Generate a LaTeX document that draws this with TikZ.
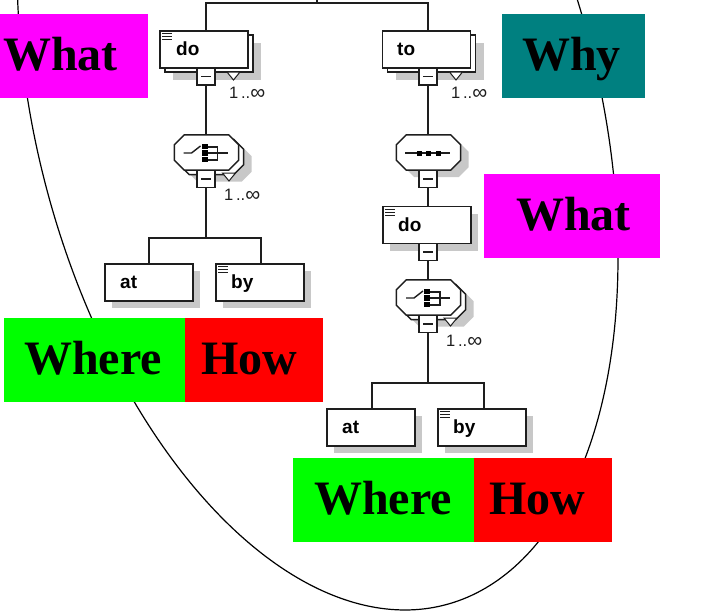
\documentclass[tikz,border=0pt]{standalone}
\usepackage{fontspec}
\setmainfont{Liberation Serif}
\newfontfamily\lsans{Liberation Sans}
\definecolor{ink}{HTML}{1E1E1E}
\definecolor{shade}{HTML}{C8C8C8}
\definecolor{tealbox}{HTML}{008080}
\definecolor{pinkbox}{HTML}{FF00FF}
\definecolor{greenbox}{HTML}{00FF00}
\definecolor{redbox}{HTML}{FF0000}
\tikzset{
  x=1pt,y=-1pt,
  link/.style={draw=ink,line width=1.5pt},
  oval/.style={draw=black,line width=1.2pt},
  xbox/.style={rectangle,draw=ink,line width=1.5pt,fill=white,minimum width=88pt,minimum height=37pt,inner sep=0pt},
  xshadow/.style={rectangle,fill=shade,minimum width=88pt,minimum height=37pt,inner sep=0pt},
  octanchor/.style={rectangle,minimum width=64pt,minimum height=35pt,inner sep=0pt},
  octline/.style={draw=ink,line width=1.5pt,fill=white},
  octshade/.style={fill=shade},
  minusbox/.style={rectangle,draw=ink,line width=1.5pt,fill=white,minimum width=18pt,minimum height=17pt,inner sep=0pt},
  name text/.style={font=\lsans\bfseries\fontsize{19}{19}\selectfont,text=black,inner sep=0pt,anchor=base west},
  mult/.style={font=\lsans\fontsize{16.5}{16.5}\selectfont,text=ink,inner sep=0pt,anchor=base west},
  tag/.style={rectangle,inner sep=0pt,minimum height=84pt,anchor=north west},
  tag text/.style={font=\bfseries\fontsize{48}{48}\selectfont,text=black,inner sep=0pt,anchor=base west},
  tri/.style={draw=ink,line width=1pt,fill=white},
  icon/.style={draw=ink,line width=1.4pt},
  bar/.style={fill=black},
}
% octagon on a named rectangular node: #1 style, #2 name, #3 x, #4 y
\newcommand{\octagon}[4]{%
  \node[octanchor] (#2) at (#3,#4) {};
  \path[#1] ([xshift=10pt]#2.north west) -- ([xshift=-10pt]#2.north east)
    -- ([yshift=-10pt]#2.north east) -- ([yshift=10pt]#2.south east)
    -- ([xshift=-10pt]#2.south east) -- ([xshift=10pt]#2.south west)
    -- ([yshift=10pt]#2.south west) -- ([yshift=-10pt]#2.north west) -- cycle;
}
\newcommand{\singlebox}[3]{%
  \node[xshadow] at (#2+7,#3+7) {};
  \node[xbox] (#1) at (#2,#3) {};
}
\newcommand{\doublebox}[3]{%
  \node[xshadow] at (#2+13,#3+12) {};
  \node[xbox] (#1b) at (#2+5,#3+4) {};
  \node[xbox] (#1) at (#2,#3) {};
}
\newcommand{\docicon}[1]{%
  \foreach \yy in {3.5,6.5,9.5}{\draw[icon,line width=1.2pt] ([shift={(3,\yy)}]#1.north west) -- ([shift={(13,\yy)}]#1.north west);}%
}
\newcommand{\minus}[1]{\draw[icon] ([xshift=-5pt]#1.center) -- ([xshift=5pt]#1.center);}
\newcommand{\trimark}[2]{\draw[tri] (#1,#2) -- (#1+13,#2) -- (#1+6.5,#2+8) -- cycle;}
\newcommand{\choiceicon}[2]{%
  \draw[icon] (#1-22,#2) -- (#1-14,#2) -- (#1-5,#2-7);
  \fill[bar] (#1-4,#2-9) rectangle (#1+2,#2-4);
  \fill[bar] (#1-4,#2-3) rectangle (#1+2,#2+3);
  \fill[bar] (#1-4,#2+4) rectangle (#1+2,#2+9);
  \draw[icon] (#1+2,#2-6) -- (#1+12,#2-6) -- (#1+12,#2+7) -- (#1+2,#2+7);
  \draw[icon] (#1+2,#2) -- (#1+22,#2);
}
\newcommand{\manymark}{1\,..\raisebox{-1.5pt}{\fontsize{21}{21}\selectfont ∞}}
\begin{document}
\begin{tikzpicture}
\useasboundingbox (0,0) rectangle (702,613);
\begin{scope}
\clip (0,0) rectangle (702,613);
\draw[oval] plot[domain=0:360,samples=361,variable=\t] ({317.5+300.5*cos(\t)},{113.4+496.6*(0.291*cos(\t)+0.9567*sin(\t))}) -- cycle;
\end{scope}

\coordinate (topL) at (206,3);
\coordinate (topR) at (428,3);
\coordinate (topUp) at (317,0);
\coordinate (topMid) at (317,3);
\doublebox{doA}{204}{49.5}
\singlebox{atA}{149}{282.5}
\singlebox{byA}{260}{282.5}
\octagon{octshade}{chAs}{219.5}{164}
\octagon{octline}{chA2}{211.5}{157}
\octagon{octline}{chA}{206.5}{152.5}
\node[minusbox] (mA) at (206,76.5) {};
\node[minusbox] (mB) at (206,179) {};
\coordinate (forkA) at (206,238);
\coordinate (forkAL) at (149,238);
\coordinate (forkAR) at (261,238);

\doublebox{toA}{426.5}{49.5}
\octagon{octshade}{seqAs}{436.5}{159.5}
\octagon{octline}{seqA}{428.5}{152.5}
\singlebox{doB}{427}{225}
\octagon{octshade}{chBs}{441.5}{309}
\octagon{octline}{chB2}{433.5}{302}
\octagon{octline}{chB}{428.5}{297.5}
\singlebox{atB}{371}{427.5}
\singlebox{byB}{482}{427.5}
\node[minusbox] (mC) at (428,76.5) {};
\node[minusbox] (mD) at (428,179) {};
\node[minusbox] (mE) at (428,252) {};
\node[minusbox] (mF) at (428,324) {};
\coordinate (forkB) at (428,383);
\coordinate (forkBL) at (372,383);
\coordinate (forkBR) at (484,383);

\draw[link] (topUp) -- (topMid);
\draw[link] (doA.north -| topL) -- (topL) -- (topR) -- (toA.north -| topR);
\draw[link] (mA) -- (chA.north -| mA);
\draw[link] (mB) -- (forkA);
\draw[link] (atA.north -| forkAL) -- (forkAL) -- (forkAR) -- (byA.north -| forkAR);
\draw[link] (mC) -- (seqA.north -| mC);
\draw[link] (mD) -- (doB.north -| mD);
\draw[link] (mE) -- (chB.north -| mE);
\draw[link] (mF) -- (forkB);
\draw[link] (atB.north -| forkBL) -- (forkBL) -- (forkBR) -- (byB.north -| forkBR);

\trimark{227}{72}
\trimark{449.5}{72}
\trimark{222.5}{173}
\trimark{444}{318}
\minus{mA}\minus{mB}\minus{mC}\minus{mD}\minus{mE}\minus{mF}

\docicon{doA}\docicon{byA}\docicon{doB}\docicon{byB}
\choiceicon{205.5}{153}
\choiceicon{428}{298}
\draw[icon] (405,153) -- (450,153);
\foreach \dx in {419,428.5,438}{\fill[black] (\dx-2.5,150.5) rectangle (\dx+2.5,155.5);}

\node[name text] (tDoA) at (176,55) {do};
\node[name text] (tToA) at (397,55) {to};
\node[name text] (tAtA) at (120,288) {at};
\node[name text] (tByA) at (231,288) {by};
\node[name text] (tDoB) at (398,231) {do};
\node[name text] (tAtB) at (342,433) {at};
\node[name text] (tByB) at (453,433) {by};

\node[mult] (mulA) at (229,98) {\manymark};
\node[mult] (mulB) at (451,98) {\manymark};
\node[mult] (mulC) at (224,200) {\manymark};
\node[mult] (mulD) at (446,346) {\manymark};

\node[tag,fill=pinkbox,minimum width=148pt] (whatA) at (0,14) {};
\node[tag,fill=tealbox,minimum width=143pt] (why) at (502,14) {};
\node[tag,fill=pinkbox,minimum width=176pt] (whatB) at (484,174) {};
\node[tag,fill=greenbox,minimum width=181pt] (whereA) at (4,318) {};
\node[tag,fill=redbox,minimum width=138pt] (howA) at (185,318) {};
\node[tag,fill=greenbox,minimum width=181pt] (whereB) at (293,458) {};
\node[tag,fill=redbox,minimum width=138pt] (howB) at (474,458) {};
\node[tag text] at (3,70) {What};
\node[tag text] at (522,70) {Why};
\node[tag text] at (516,230) {What};
\node[tag text] at (24,374) {Where};
\node[tag text] at (201,374) {How};
\node[tag text] at (314,514) {Where};
\node[tag text] at (489,514) {How};
\end{tikzpicture}
\end{document}
